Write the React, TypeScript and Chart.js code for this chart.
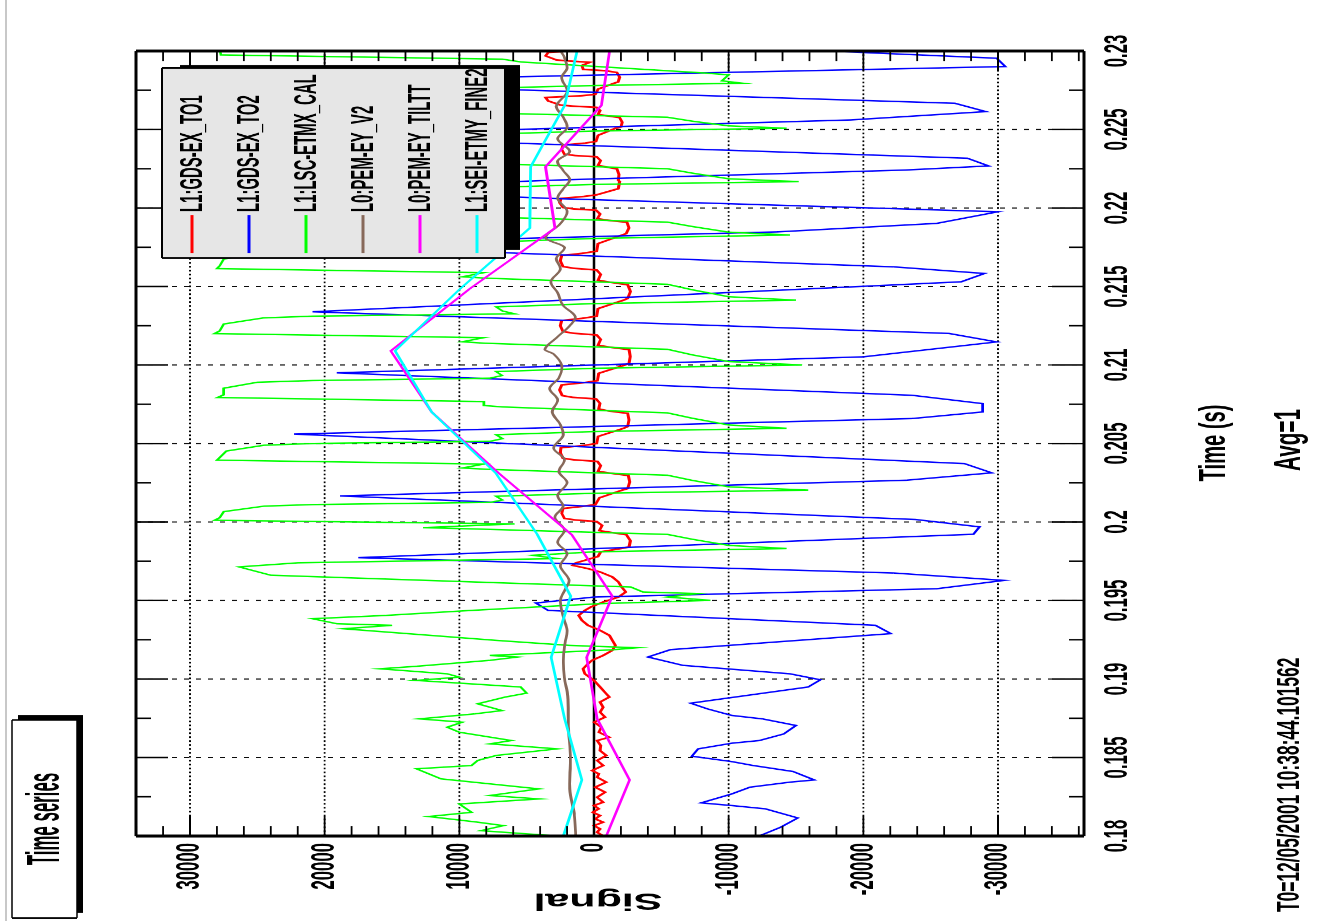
import React, { useEffect, useRef } from "react";
import { Chart, registerables } from "chart.js";

Chart.register(...registerables);

// ---------------- data ----------------
const timeTicks = [0.18, 0.185, 0.19, 0.195, 0.2, 0.205, 0.21, 0.215, 0.22, 0.225, 0.23];
const timeMinorTicks = [0.18, 0.1825, 0.185, 0.1875, 0.19, 0.1925, 0.195, 0.1975, 0.2, 0.2025, 0.205, 0.2075, 0.21, 0.2125, 0.215, 0.2175, 0.22, 0.2225, 0.225, 0.2275, 0.23];
const signalTicks = [-30000, -20000, -10000, 0, 10000, 20000, 30000];
const signalMinorTicks = [-36000, -34000, -32000, -30000, -28000, -26000, -24000, -22000, -20000, -18000, -16000, -14000, -12000, -10000, -8000, -6000, -4000, -2000, 0, 2000, 4000, 6000, 8000, 10000, 12000, 14000, 16000, 18000, 20000, 22000, 24000, 26000, 28000, 30000, 32000, 34000];
const timeRange = [0.18, 0.23];
const signalRange = [-36386, 34010];

const seriesNames = ["L1:GDS-EX_TO1", "L1:GDS-EX_TO2", "L1:LSC-ETMX_CAL", "L0:PEM-EY_V2", "L0:PEM-EY_TILTT", "L1:SEI-ETMY_FINE2"];
const seriesColors = ["#ff0000", "#0000ff", "#00ff00", "#87695a", "#ff00ff", "#00ffff"];

const redT = [
  0.18, 0.18024, 0.18045, 0.18066, 0.18088, 0.18109, 0.1813, 0.18151, 0.18173, 0.18194, 0.18215, 0.18247, 0.18279, 0.18311, 0.18343, 0.18374, 0.18396, 0.18417, 0.18449, 0.18481, 0.18513, 0.18544, 0.18576, 0.18608, 0.18629, 0.18661, 0.18693, 0.18725, 0.18757, 0.18789, 0.1882, 0.18853, 0.18885, 0.18906,
  0.18949, 0.18991, 0.19033, 0.19065, 0.19097, 0.19119, 0.1915, 0.19182, 0.19214, 0.19246, 0.19278, 0.1931, 0.19342, 0.19374, 0.19405, 0.19437, 0.19459, 0.1949, 0.19522, 0.19554, 0.19586, 0.19618, 0.1965, 0.19682, 0.19703, 0.19724, 0.19739, 0.19756, 0.1978, 0.1981,
  0.19831, 0.19841, 0.1988, 0.19919, 0.19933, 0.19945, 0.19978, 0.20003, 0.20013, 0.20023, 0.20056, 0.20086, 0.20099, 0.20111, 0.20154,
  0.20203, 0.20213, 0.20255, 0.20296, 0.20311, 0.20323, 0.20359, 0.20386, 0.20396, 0.20406, 0.20442, 0.20473, 0.20487, 0.205, 0.20545,
  0.20597, 0.20608, 0.2065, 0.20692, 0.20707, 0.2072, 0.20756, 0.20784, 0.20794, 0.20805, 0.20841, 0.20873, 0.20888, 0.209, 0.20947,
  0.21, 0.21011, 0.21054, 0.21098, 0.21113, 0.21126, 0.21163, 0.21191, 0.21202, 0.21213, 0.2125, 0.21283, 0.21298, 0.21311, 0.21359,
  0.21413, 0.21424, 0.21468, 0.21511, 0.21527, 0.2154, 0.21577, 0.21605, 0.21616, 0.21627, 0.21664, 0.21697, 0.21712, 0.21725, 0.21773,
  0.21828, 0.21837, 0.21873, 0.21909, 0.21921, 0.21932, 0.21962, 0.21986, 0.21994, 0.22003, 0.22034, 0.22061, 0.22073, 0.22084, 0.22123,
  0.22168, 0.22177, 0.22213, 0.22249, 0.22261, 0.22272, 0.22302, 0.22326, 0.22334, 0.22343, 0.22374, 0.22401, 0.22413, 0.22424, 0.22463,
  0.22508, 0.22516, 0.22546, 0.22576, 0.22587, 0.22596, 0.22621, 0.22641, 0.22649, 0.22656, 0.22682, 0.22704, 0.22715, 0.22724, 0.22757,
  0.22795, 0.22803, 0.22833, 0.22863, 0.22874, 0.22883, 0.22908, 0.22928, 0.22936, 0.22943, 0.22969, 0.22991, 0.23002, 0.23011, 0.23044,
];
const redV = [
  -680, -230, -450, 0, -680, -90, -450, 90, -360, 0, -680, -230, -820, -90, -910, -230, -360, 140, -680, -230, -910, -450, -500, -230, -1140, -360, -550, 0, -820, -450, -680, -450, -1140, -910,
  -450, 0, 680, 820, 450, 140, -680, -1360, -1590, -1360, -1140, -450, 450, 910, 1140, 680, 230, -680, -1820, -2360, -2050, -1820, -1360, -450, 450, 1590, 1360, 680, -300, -500,
  -2000, -2600, -2700, -2400, -1300, -400, -600, -200, 1400, 2200, 2400, 2300, 900, -100, -400,
  -2100, -2500, -2650, -2550, -1200, -300, -500, -250, 1500, 2300, 2500, 2450, 800, -200, -300,
  -2200, -2500, -2600, -2500, -1100, -350, -450, -150, 1600, 2350, 2550, 2400, 700, -250, -350,
  -2300, -2600, -2700, -2600, -1200, -300, -500, -200, 1500, 2300, 2500, 2400, 800, -200, -300,
  -2200, -2500, -2700, -2500, -1200, -300, -500, -200, 1500, 2300, 2500, 2400, 800, -200, -300,
  -2100, -2400, -2600, -2450, -1100, -250, -450, -150, 1500, 2300, 2550, 2450, 800, -200, -1800,
  -1900, -1800, -1850, -1700, -900, -300, -500, -200, 1400, 2200, 2400, 2300, 700, -150, -300,
  -1600, -2000, -2100, -1900, -1000, -300, -450, -200, 1600, 2500, 3400, 3600, 900, -100, -300,
  -1500, -1800, -1900, -1700, -900, 800, 900, 300, 1800, 2800, 3600, 3400, 800, -200, -300,
];

const blueT = [0.1797, 0.18, 0.18056, 0.18115, 0.18173, 0.18194, 0.18211, 0.18268, 0.18311, 0.18343, 0.18357, 0.18411, 0.18449, 0.18474, 0.18508, 0.18555, 0.18591, 0.18608, 0.1865, 0.18704, 0.18746, 0.18768, 0.1881, 0.18846, 0.18949, 0.18995, 0.19033, 0.19087, 0.1914, 0.19187, 0.19289, 0.19342, 0.19437, 0.19484, 0.19522, 0.19575, 0.19628, 0.19675, 0.19773, 0.19922, 0.19969, 0.20016, 0.20166, 0.20266, 0.20313, 0.20372, 0.2056, 0.20659, 0.20701, 0.20754, 0.20807, 0.2095, 0.21052, 0.21147, 0.21201, 0.21339, 0.2153, 0.21583, 0.21625, 0.21711, 0.21753, 0.21806, 0.21848, 0.21902, 0.21976, 0.22061, 0.22121, 0.22178, 0.22242, 0.22268, 0.22317, 0.22412, 0.22461, 0.22501, 0.22561, 0.22614, 0.22667, 0.22752, 0.22802, 0.22837, 0.22901, 0.22954, 0.23007, 0.2307, 0.2312];
const blueV = [-11000, -12270, -13860, -15140, -12730, -10230, -7950, -10230, -11590, -14545, -16360, -14770, -11820, -10230, -7270, -7730, -10230, -12270, -14090, -15000, -12500, -10230, -8410, -7180, -15900, -16820, -14550, -6590, -4000, -5680, -22040, -20900, 3410, 4320, 0, -25450, -30450, -22270, 17500, -28180, -28630, -23860, 18860, -23180, -29540, -27500, 22270, -23630, -28860, -28860, -23630, 19090, -20000, -29900, -26360, 20900, -27270, -29000, -22270, 5450, 16800, 5450, -13640, -25450, -30000, 3180, 21000, 2730, -23180, -29300, -27730, 5450, 22400, 5450, -19090, -29090, -26800, 5450, 24500, 5000, -30540, -29900, -15450, 1860, 18000];

const greenT = [
  0.1797, 0.18, 0.18034, 0.18066, 0.18088, 0.18124, 0.18151, 0.18204, 0.18236, 0.18258, 0.183, 0.18364, 0.18428, 0.18449, 0.18481, 0.18513, 0.18555, 0.18587, 0.18608, 0.18661, 0.18693, 0.18725, 0.18746, 0.18778, 0.18799, 0.18842, 0.18885, 0.1891, 0.18949, 0.18991, 0.19012, 0.19033, 0.19065, 0.19081, 0.19119, 0.1914, 0.1915, 0.19186, 0.19199, 0.19214, 0.19246, 0.1932, 0.19342, 0.19352, 0.19384, 0.19405, 0.19437, 0.1948, 0.19501, 0.19522, 0.19544, 0.19554, 0.19586, 0.19607, 0.19661, 0.19714, 0.1974, 0.19767, 0.19788, 0.1981,
  0.19831, 0.19851, 0.1989, 0.19921, 0.19956, 0.19964, 0.19988, 0.20011, 0.20027, 0.20066, 0.20101, 0.20111, 0.20125, 0.2014, 0.20164, 0.20183,
  0.20203, 0.20224, 0.20265, 0.20298, 0.20336, 0.20344, 0.20369, 0.20394, 0.2041, 0.20452, 0.20489, 0.205, 0.20514, 0.20531, 0.20556, 0.20576,
  0.20597, 0.20618, 0.20661, 0.20695, 0.20733, 0.20742, 0.20767, 0.20793, 0.2081, 0.20852, 0.2089, 0.20901, 0.20916, 0.20933, 0.20958, 0.20979,
  0.21, 0.21022, 0.21065, 0.211, 0.21139, 0.21148, 0.21174, 0.212, 0.21217, 0.21261, 0.213, 0.21311, 0.21326, 0.21344, 0.2137, 0.21391,
  0.21413, 0.21435, 0.21479, 0.21514, 0.21553, 0.21562, 0.21588, 0.21614, 0.21631, 0.21675, 0.21714, 0.21725, 0.21741, 0.21758, 0.21784, 0.21806,
  0.21828, 0.21846, 0.21882, 0.2191, 0.21943, 0.2195, 0.21971, 0.21993, 0.22007, 0.22043, 0.22075, 0.22084, 0.22096, 0.22111, 0.22132, 0.2215,
  0.22168, 0.22186, 0.22222, 0.2225, 0.22283, 0.2229, 0.22311, 0.22333, 0.22347, 0.22383, 0.22415, 0.22424, 0.22436, 0.22451, 0.22472, 0.2249,
  0.22508, 0.22523, 0.22553, 0.22578, 0.22605, 0.22611, 0.22629, 0.22647, 0.22659, 0.22689, 0.22717, 0.22724, 0.22735, 0.22747, 0.22765, 0.2278,
  0.22795, 0.2281, 0.22848, 0.2286, 0.2293, 0.22948, 0.22975, 0.2305, 0.2311,
];
const greenV = [
  5000, 2727, 8400, 6730, 8640, 12270, 9090, 10000, 4090, 7730, 4090, 11360, 13180, 9090, 8640, 7270, 2727, 7730, 6140, 10000, 10900, 9770, 12950, 8860, 6820, 8640, 6590, 5000, 5450, 13180, 10000, 10900, 15900, 13180, 7730, 5680, 7730, -1360, -3180, 1820, 7270, 18600, 15000, 19090, 20900, 15450, 9090, -450, -8640, -5450, -7730, -3640, -2727, 5000, 24000, 26360, 22000, 2727, 4545, 0,
  -14300, -10000, -7300, -5450, 9000, 12700, 5900, 28180, 27800, 27500, 24500, 20900, 7700, 6800, 7270, 0,
  -15900, -10000, -7300, -5450, 8000, 9770, 8180, 28000, 27800, 27300, 24500, 20900, 7700, 6800, 7270, 0,
  -14300, -10000, -7300, -5450, 6800, 8180, 8180, 27950, 27500, 27500, 25000, 20900, 7730, 6820, 7270, 0,
  -15450, -10000, -7270, -5450, 8180, 9770, 8180, 28180, 27800, 27500, 24540, 20900, 5900, 6800, 7270, 0,
  -15000, -10000, -7300, -5450, 8000, 9770, 8180, 28000, 27800, 27500, 24500, 20900, 7700, 6800, 7270, 0,
  -14550, -10000, -7300, -5450, 8000, 9770, 8180, 28000, 27800, 27500, 24500, 20900, 7700, 6800, 7270, 0,
  -15200, -10000, -7300, -5450, 8000, 9770, 8180, 28000, 27800, 27500, 24500, 20900, 7700, 6800, 7270, 0,
  -14300, -10000, -7300, -5450, 8000, 9770, 8180, 28000, 27800, 27500, 24500, 20900, 7700, 6800, 7270, 0,
  -11000, -9500, -10000, -8200, 5400, 6800, 27700, 27900, 27500,
];

const brownT = [0.18, 0.1813, 0.183, 0.1849, 0.187, 0.1889, 0.1901, 0.1912, 0.1923, 0.1931, 0.194, 0.195, 0.1957, 0.1963, 0.1972, 0.198, 0.1987, 0.1995, 0.2003, 0.201, 0.2017, 0.2025, 0.2032, 0.204, 0.2047, 0.2055, 0.2062, 0.207, 0.2078, 0.2085, 0.2092, 0.21, 0.2107, 0.211, 0.2118, 0.2125, 0.2131, 0.2138, 0.2146, 0.2153, 0.2161, 0.2168, 0.2175, 0.2181, 0.219, 0.2198, 0.2206, 0.2212, 0.2218, 0.2224, 0.223, 0.2236, 0.2244, 0.2251, 0.2258, 0.2265, 0.2274, 0.2283, 0.2289, 0.2296, 0.2301, 0.2307];
const brownV = [1360, 1450, 1800, 1750, 1900, 1950, 2200, 2270, 2150, 2000, 2300, 2500, 2150, 1850, 2500, 2000, 2700, 2200, 2900, 2300, 2700, 2000, 2600, 2200, 3000, 2300, 2500, 3100, 2700, 3300, 2600, 2400, 3000, 3640, 2700, 1800, 1400, 2300, 2700, 3200, 2500, 2800, 2200, 3600, 2500, 2000, 2700, 2300, 1800, 2300, 2700, 1800, 2700, 2000, 2300, 2800, 2000, 2400, 2000, 2200, 2500, 2300];

const slowT = [0.17966, 0.18357, 0.18747, 0.19138, 0.19528, 0.19919, 0.20309, 0.207, 0.2109, 0.21481, 0.21872, 0.22262, 0.22653, 0.23043, 0.23434];
const magentaV = [-745, -2636, -227, 545, -1364, 1650, 7045, 12045, 15090, 9300, 2900, 3600, -545, -1227, -1400];
const cyanV = [2400, 909, 2180, 3180, 1730, 4200, 7270, 12045, 14770, 10000, 4772, 4700, 2180, 1136, 1000];

const titleText = "Time series";
const xTitle = "Time (s)";
const yTitle = "Signal";
const avgText = "Avg=1";
const t0Text = "T0=12/05/2001 10:38:44.101562";

// ---------------- layout (page pixels before the 90° turn) ----------------
const FONT = '"Liberation Sans", Arial, Helvetica, sans-serif';
const S = 0.56; // squeeze along the time direction
const CW = 1645;
const CH = 1323;
const PX0 = 85, PX1 = 870, PY0 = 136, PY1 = 1084;
const cx = (v: number) => v / S;

function line(ctx: CanvasRenderingContext2D, x1: number, y1: number, x2: number, y2: number) {
  ctx.beginPath();
  ctx.moveTo(x1, y1);
  ctx.lineTo(x2, y2);
  ctx.stroke();
}

function boxBorder(ctx: CanvasRenderingContext2D, x0: number, y0: number, x1: number, y1: number, w: number) {
  ctx.lineWidth = w;
  line(ctx, x0, y0, x1, y0);
  line(ctx, x0, y1, x1, y1);
  ctx.lineWidth = w / S;
  line(ctx, x0, y0, x0, y1);
  line(ctx, x1, y0, x1, y1);
}

function squeezedText(ctx: CanvasRenderingContext2D, text: string, x: number, y: number, font: string, sx: number, align: CanvasTextAlign) {
  ctx.save();
  ctx.translate(x, y);
  ctx.scale(sx, 1);
  ctx.font = font;
  ctx.textAlign = align;
  ctx.textBaseline = "middle";
  ctx.fillText(text, 0, 0);
  ctx.restore();
}

const fmtNum = (v: number) => String(parseFloat(Number(v).toFixed(5)));

const rootPlugin = {
  id: "rootDecor",
  beforeDraw(chart: any) {
    const ctx = chart.ctx as CanvasRenderingContext2D;
    ctx.save();
    ctx.fillStyle = "#ffffff";
    ctx.fillRect(0, 0, chart.width, chart.height);
    ctx.strokeStyle = "#c8c8c8";
    ctx.lineWidth = 2;
    line(ctx, 0, 6, chart.width, 6);
    ctx.restore();
  },
  beforeDatasetsDraw(chart: any) {
    const ctx = chart.ctx as CanvasRenderingContext2D;
    const a = chart.chartArea;
    const xs = chart.scales.x;
    const ys = chart.scales.y;
    ctx.save();
    ctx.strokeStyle = "#000";
    ctx.lineWidth = 1.8;
    ctx.setLineDash([3, 4]);
    for (const v of signalTicks) {
      if (v === 0) continue;
      const y = ys.getPixelForValue(v);
      line(ctx, a.left, y, a.right, y);
    }
    ctx.setLineDash([5, 7]);
    ctx.lineWidth = 1.9;
    for (const t of timeTicks) {
      if (t <= timeRange[0] || t >= timeRange[1]) continue;
      const x = xs.getPixelForValue(t);
      line(ctx, x, a.top, x, a.bottom);
    }
    ctx.setLineDash([]);
    ctx.lineWidth = 2.6;
    const y0 = ys.getPixelForValue(0);
    line(ctx, a.left, y0, a.right, y0);
    ctx.restore();
  },
  afterDatasetsDraw(chart: any) {
    const ctx = chart.ctx as CanvasRenderingContext2D;
    const a = chart.chartArea;
    const xs = chart.scales.x;
    const ys = chart.scales.y;
    ctx.save();
    ctx.strokeStyle = "#000";
    ctx.fillStyle = "#000";

    // frame
    boxBorder(ctx, a.left, a.top, a.right, a.bottom, 3);

    // time ticks (both sides) + labels
    ctx.lineWidth = 1.5 / S;
    for (const t of timeMinorTicks) {
      const major = timeTicks.some((m) => Math.abs(m - t) < 1e-9);
      const len = major ? 32 : 15;
      const x = xs.getPixelForValue(t);
      line(ctx, x, a.bottom, x, a.bottom - len);
      line(ctx, x, a.top, x, a.top + len);
    }
    for (const t of timeTicks) {
      squeezedText(ctx, fmtNum(t), xs.getPixelForValue(t), a.bottom + 34, `bold 34px ${FONT}`, 0.88, "center");
    }
    // signal ticks (both sides) + labels
    ctx.lineWidth = 1.8;
    for (const v of signalMinorTicks) {
      const major = v % 10000 === 0;
      const len = (major ? 20 : 10) / S;
      const y = ys.getPixelForValue(v);
      line(ctx, a.left, y, a.left + len, y);
      line(ctx, a.right, y, a.right - len, y);
    }
    for (const v of signalTicks) {
      squeezedText(ctx, fmtNum(v), a.left - 12.5, ys.getPixelForValue(v), `bold 34px ${FONT}`, 0.88, "right");
    }

    // legend
    const LX0 = cx(663), LX1 = cx(853), LY0 = 162, LY1 = 505;
    ctx.fillStyle = "#000";
    ctx.fillRect(cx(671), 180, cx(856) - cx(671), 520 - 180);
    ctx.fillStyle = "#e6e6e6";
    ctx.fillRect(LX0, LY0, LX1 - LX0, LY1 - LY0);
    ctx.strokeStyle = "#000";
    boxBorder(ctx, LX0, LY0, LX1, LY1, 2);
    ctx.save();
    ctx.beginPath();
    ctx.rect(LX0, LY0, LX1 - LX0 - 2, LY1 - LY0);
    ctx.clip();
    seriesNames.forEach((name, i) => {
      const yc = 192 + 57 * i;
      ctx.strokeStyle = seriesColors[i];
      ctx.lineWidth = 3;
      line(ctx, cx(668), yc, cx(706), yc);
      ctx.fillStyle = "#000";
      squeezedText(ctx, name, cx(709), yc + 1, `bold 31px ${FONT}`, 0.86, "left");
    });
    ctx.restore();

    // title box
    ctx.fillStyle = "#000";
    ctx.fillRect(cx(8), 18, cx(206) - cx(8), 83 - 18);
    ctx.fillStyle = "#fff";
    ctx.fillRect(cx(3), 12, cx(201) - cx(3), 77 - 12);
    ctx.strokeStyle = "#000";
    boxBorder(ctx, cx(3), 12, cx(201), 77, 1.6);
    ctx.fillStyle = "#000";
    squeezedText(ctx, titleText, cx(102), 46, `bold 47px ${FONT}`, 0.64, "center");

    // axis titles and notes
    ctx.fillStyle = "#000";
    ctx.textBaseline = "middle";
    ctx.save();
    ctx.translate(cx(21), 598);
    ctx.rotate(-Math.PI / 2);
    ctx.font = `bold 43px ${FONT}`;
    ctx.textAlign = "center";
    ctx.fillText(yTitle, 0, 0);
    ctx.restore();

    ctx.font = `bold 36px ${FONT}`;
    ctx.textAlign = "center";
    ctx.fillText(xTitle, cx(478), 1215);

    ctx.font = `bold 37px ${FONT}`;
    ctx.fillText(avgText, cx(481), 1290);
    ctx.font = `bold 31px ${FONT}`;
    ctx.textAlign = "left";
    ctx.fillText(t0Text, cx(9), 1290);

    ctx.restore();
  },
};

export default function App() {
  const ref = useRef<HTMLCanvasElement | null>(null);

  useEffect(() => {
    const canvas = ref.current;
    if (!canvas) return;
    const pts = (T: number[], V: number[]) => T.map((t, i) => ({ x: t, y: V[i] }));
    const seriesData = [
      pts(redT, redV),
      pts(blueT, blueV),
      pts(greenT, greenV),
      pts(brownT, brownV),
      pts(slowT, magentaV),
      pts(slowT, cyanV),
    ];
    const widths = [3, 2.6, 2.6, 2.8, 2.8, 2.8];
    const datasets = seriesNames.map((name, i) => ({
      label: name,
      data: seriesData[i],
      borderColor: seriesColors[i],
      backgroundColor: seriesColors[i],
      borderWidth: widths[i],
      pointRadius: 0,
      fill: false,
      tension: i === 3 ? 0.35 : 0,
      order: 10 - i,
    }));

    const chart = new Chart(canvas, {
      type: "line",
      data: { datasets },
      plugins: [rootPlugin],
      options: {
        animation: false,
        responsive: false,
        devicePixelRatio: 1,
        events: [],
        layout: { padding: { left: 0, top: PY0, right: CW - cx(PX1), bottom: 0 } },
        plugins: { legend: { display: false }, tooltip: { enabled: false }, title: { display: false } },
        scales: {
          x: {
            type: "linear",
            min: timeRange[0],
            max: timeRange[1],
            afterFit: (s: any) => {
              s.height = CH - PY1;
            },
            afterBuildTicks: (s: any) => {
              s.ticks = timeTicks.map((v) => ({ value: v }));
            },
            grid: { display: false, drawTicks: false },
            border: { display: false },
            ticks: { display: false },
          },
          y: {
            type: "linear",
            min: signalRange[0],
            max: signalRange[1],
            afterFit: (s: any) => {
              s.width = cx(PX0);
            },
            afterBuildTicks: (s: any) => {
              s.ticks = signalTicks.map((v) => ({ value: v }));
            },
            grid: { display: false, drawTicks: false },
            border: { display: false },
            ticks: { display: false },
          },
        },
      } as any,
    });
    return () => chart.destroy();
  }, []);

  return (
    <div style={{ position: "fixed", left: 0, top: 0, width: 1323, height: 921, overflow: "hidden", background: "#fff" }}>
      <div
        style={{
          position: "absolute",
          left: 0,
          top: 0,
          width: CW,
          height: CH,
          transformOrigin: "0 0",
          transform: `translate(0px, 921px) rotate(-90deg) scaleX(${S})`,
        }}
      >
        <canvas ref={ref} width={CW} height={CH} style={{ display: "block", width: CW, height: CH }} />
      </div>
    </div>
  );
}
